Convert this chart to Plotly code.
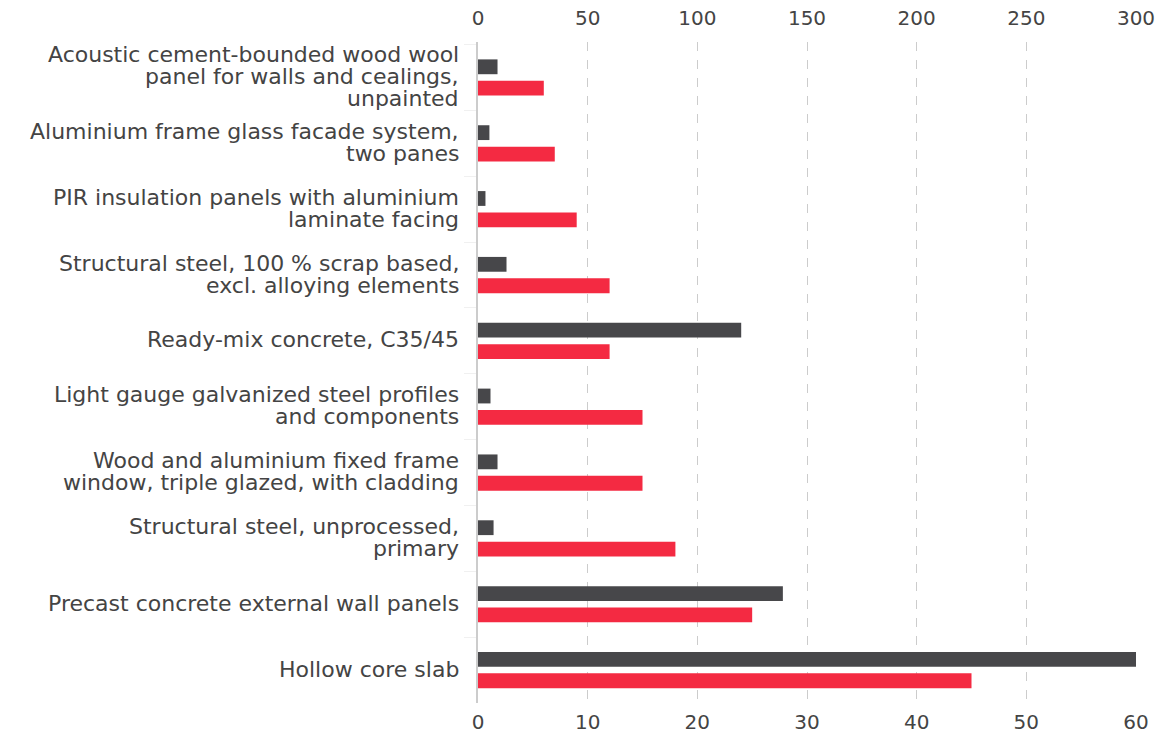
import plotly.graph_objects as go

categories = [
    "Acoustic cement-bounded wood wool<br>panel for walls and cealings,<br>unpainted",
    "Aluminium frame glass facade system,<br>two panes",
    "PIR insulation panels with aluminium<br>laminate facing",
    "Structural steel, 100 % scrap based,<br>excl. alloying elements",
    "Ready-mix concrete, C35/45",
    "Light gauge galvanized steel profiles<br>and components",
    "Wood and aluminium fixed frame<br>window, triple glazed, with cladding",
    "Structural steel, unprocessed,<br>primary",
    "Precast concrete external wall panels",
    "Hollow core slab",
]
dark_values = [8.9, 5.2, 3.4, 13, 120, 5.7, 8.9, 7.1, 139, 300]   # top axis 0-300
red_values = [6, 7, 9, 12, 12, 15, 15, 18, 25, 45]                 # bottom axis 0-60
top_ticks = [0, 50, 100, 150, 200, 250, 300]
bottom_ticks = [0, 10, 20, 30, 40, 50, 60]

DARK = "#47474a"
RED = "#f42a42"
TEXT = "#444444"
FONT = "DejaVu Sans"
LABEL_SIZE = 22
LINE_GAP = 22

fig = go.Figure()
fig.add_trace(go.Bar(
    y=categories, x=dark_values, orientation="h", xaxis="x2", yaxis="y",
    marker=dict(color=DARK, line=dict(width=0)),
    width=0.225, offset=-0.275, name="dark",
))
fig.add_trace(go.Bar(
    y=categories, x=red_values, orientation="h", xaxis="x", yaxis="y",
    marker=dict(color=RED, line=dict(width=0)),
    width=0.225, offset=0.05, name="red",
))

# category labels as tightly spaced text lines
annotations = []
for idx, cat in enumerate(categories):
    lines = cat.split("<br>")
    n = len(lines)
    for i, line in enumerate(lines):
        annotations.append(dict(
            text=line, xref="paper", x=0, xanchor="right", xshift=-17,
            yref="y", y=idx, yanchor="middle",
            yshift=((n - 1) / 2 - i) * LINE_GAP + 1,
            showarrow=False,
            font=dict(family=FONT, size=LABEL_SIZE, color=TEXT),
        ))

fig.update_layout(
    width=1161, height=738,
    margin=dict(l=478, r=25, t=42, b=35),
    paper_bgcolor="white", plot_bgcolor="white",
    showlegend=False,
    barmode="overlay",
    font=dict(family=FONT, color=TEXT, size=20),
    annotations=annotations,
    xaxis=dict(
        range=[0, 60], tickvals=bottom_ticks, side="bottom",
        showgrid=True, gridcolor="#cccccc", griddash="dash", gridwidth=1,
        zeroline=False, showline=False, ticks="",
        tickfont=dict(size=20, color=TEXT, family=FONT),
        ticklabelstandoff=5, automargin=False,
    ),
    xaxis2=dict(
        range=[0, 300], tickvals=top_ticks, side="top", overlaying="x",
        showgrid=False, zeroline=False, showline=False, ticks="",
        tickfont=dict(size=20, color=TEXT, family=FONT),
        ticklabelstandoff=12, automargin=False,
    ),
    yaxis=dict(
        type="category", autorange="reversed",
        showline=True, linecolor="#cccccc", linewidth=2,
        showgrid=False, zeroline=False,
        ticks="outside", tickson="boundaries", ticklen=12, tickcolor="#f0f0f0",
        showticklabels=False, automargin=False,
    ),
)

fig.write_html(
    "out.html",
    config={"displayModeBar": False},
    post_script="document.body.style.margin='0';document.body.style.overflow='hidden';",
)
